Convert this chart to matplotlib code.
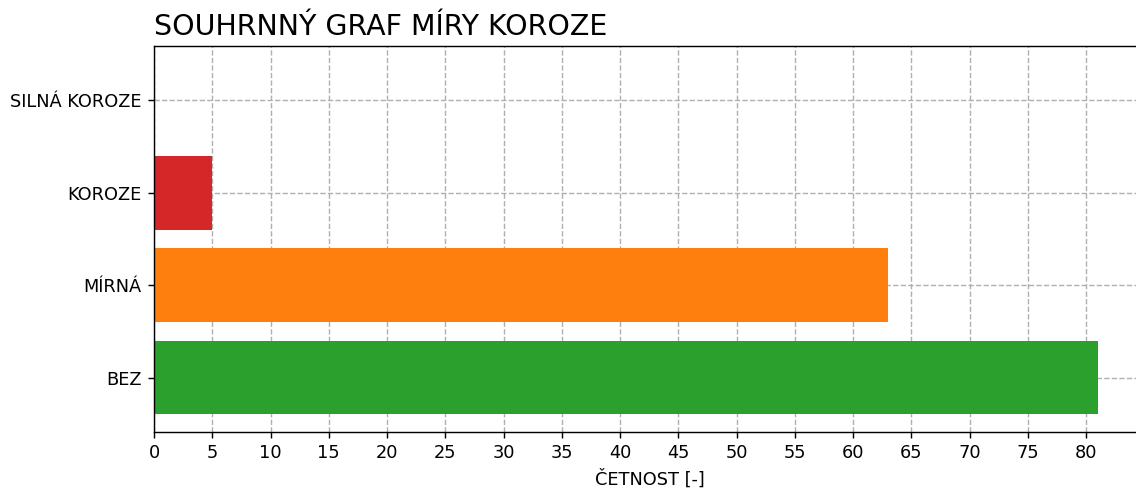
import matplotlib
matplotlib.use("Agg")
import matplotlib.pyplot as plt

categories = ["BEZ", "MÍRNÁ", "KOROZE", "SILNÁ KOROZE"]
counts = [81, 63, 5, 0]
colors = ["#2ca02c", "#ff7f0e", "#d62728", "#1f77b4"]

dpi = 128
fig = plt.figure(figsize=(1136 / dpi, 488 / dpi), dpi=dpi)
ax = fig.add_axes([154 / 1136, 56 / 488, 991 / 1136, 386 / 488])

ax.barh(categories, counts, color=colors, height=0.8)
ax.set_axisbelow(True)
ax.grid(True, linestyle="--", color="#b0b0b0")
ax.set_xticks(range(0, 85, 5))
ax.tick_params(labelsize=10)
ax.set_xlabel("ČETNOST [-]", fontsize=10)
ax.set_title("SOUHRNNÝ GRAF MÍRY KOROZE", loc="left", fontsize=16)

fig.savefig("out.png", dpi=dpi)
